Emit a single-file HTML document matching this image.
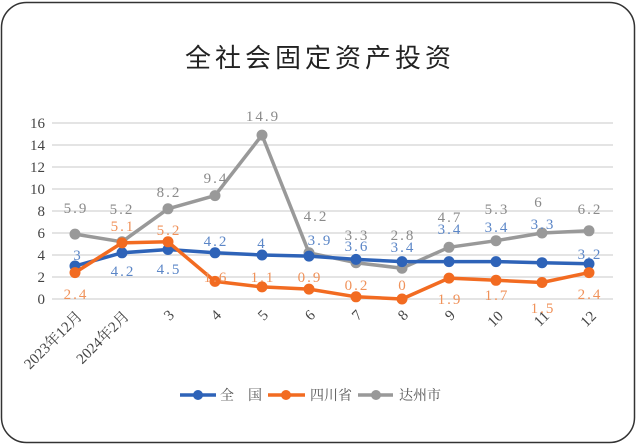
<!DOCTYPE html>
<html><head><meta charset="utf-8"><style>
html,body{margin:0;padding:0;background:#fff;}
svg{display:block;}
</style></head><body>
<svg width="640" height="447" xmlns="http://www.w3.org/2000/svg" font-family="'Liberation Serif','Noto Serif CJK SC',serif">
<rect x="1.5" y="2.5" width="633" height="440" rx="25" fill="#fff" stroke="#333" stroke-width="1.5"/>
<text x="320" y="67" text-anchor="middle" font-family="'Liberation Sans','Noto Sans CJK SC',sans-serif" font-size="26" letter-spacing="4" fill="#222">全社会固定资产投资</text>
<g stroke="#d4d4d4" stroke-width="1.2">
<line x1="52" x2="613" y1="123" y2="123"/><line x1="52" x2="613" y1="145" y2="145"/>
<line x1="52" x2="613" y1="167" y2="167"/><line x1="52" x2="613" y1="189" y2="189"/>
<line x1="52" x2="613" y1="211" y2="211"/><line x1="52" x2="613" y1="233" y2="233"/>
<line x1="52" x2="613" y1="255" y2="255"/><line x1="52" x2="613" y1="277" y2="277"/>
<line x1="52" x2="613" y1="299" y2="299"/>
</g>
<g font-size="15" fill="#444" text-anchor="end">
<text x="45" y="128">16</text><text x="45" y="150">14</text><text x="45" y="172">12</text>
<text x="45" y="194">10</text><text x="45" y="216">8</text><text x="45" y="238">6</text>
<text x="45" y="260">4</text><text x="45" y="282">2</text><text x="45" y="304">0</text>
</g>
<g font-size="15" fill="#444" text-anchor="end">
<text transform="translate(83,317) rotate(-45)">2023年12月</text>
<text transform="translate(130,317) rotate(-45)">2024年2月</text>
<text transform="translate(175,316) rotate(-45)">3</text>
<text transform="translate(222,316) rotate(-45)">4</text>
<text transform="translate(269,316) rotate(-45)">5</text>
<text transform="translate(316,316) rotate(-45)">6</text>
<text transform="translate(363,316) rotate(-45)">7</text>
<text transform="translate(409,316) rotate(-45)">8</text>
<text transform="translate(456,316) rotate(-45)">9</text>
<text transform="translate(504,317) rotate(-45)">10</text>
<text transform="translate(550,317) rotate(-45)">11</text>
<text transform="translate(597,317) rotate(-45)">12</text>
</g>
<!-- gray -->
<polyline fill="none" stroke="#999" stroke-width="3.5" stroke-linejoin="round" points="75,234.1 122,241.8 168,208.8 215,195.6 262,135.1 309,252.8 356,262.7 402,268.2 449,247.3 496,240.7 542,233 589,230.8"/>
<g fill="#999"><circle cx="75" cy="234.1" r="5.5"/><circle cx="122" cy="241.8" r="5.5"/><circle cx="168" cy="208.8" r="5.5"/><circle cx="215" cy="195.6" r="5.5"/><circle cx="262" cy="135.1" r="5.5"/><circle cx="309" cy="252.8" r="5.5"/><circle cx="356" cy="262.7" r="5.5"/><circle cx="402" cy="268.2" r="5.5"/><circle cx="449" cy="247.3" r="5.5"/><circle cx="496" cy="240.7" r="5.5"/><circle cx="542" cy="233" r="5.5"/><circle cx="589" cy="230.8" r="5.5"/></g>
<!-- blue -->
<polyline fill="none" stroke="#2e63b8" stroke-width="3.5" stroke-linejoin="round" points="75,266 122,252.8 168,249.5 215,252.8 262,255 309,256.1 356,259.4 402,261.6 449,261.6 496,261.6 542,262.7 589,263.8"/>
<g fill="#2e63b8"><circle cx="75" cy="266" r="5.5"/><circle cx="122" cy="252.8" r="5.5"/><circle cx="168" cy="249.5" r="5.5"/><circle cx="215" cy="252.8" r="5.5"/><circle cx="262" cy="255" r="5.5"/><circle cx="309" cy="256.1" r="5.5"/><circle cx="356" cy="259.4" r="5.5"/><circle cx="402" cy="261.6" r="5.5"/><circle cx="449" cy="261.6" r="5.5"/><circle cx="496" cy="261.6" r="5.5"/><circle cx="542" cy="262.7" r="5.5"/><circle cx="589" cy="263.8" r="5.5"/></g>
<!-- orange -->
<polyline fill="none" stroke="#f26b21" stroke-width="3.5" stroke-linejoin="round" points="75,272.6 122,242.9 168,241.8 215,281.4 262,286.9 309,289.1 356,296.8 402,299 449,278.1 496,280.3 542,282.5 589,272.6"/>
<g fill="#f26b21"><circle cx="75" cy="272.6" r="5.5"/><circle cx="122" cy="242.9" r="5.5"/><circle cx="168" cy="241.8" r="5.5"/><circle cx="215" cy="281.4" r="5.5"/><circle cx="262" cy="286.9" r="5.5"/><circle cx="309" cy="289.1" r="5.5"/><circle cx="356" cy="296.8" r="5.5"/><circle cx="402" cy="299" r="5.5"/><circle cx="449" cy="278.1" r="5.5"/><circle cx="496" cy="280.3" r="5.5"/><circle cx="542" cy="282.5" r="5.5"/><circle cx="589" cy="272.6" r="5.5"/></g>
<g font-size="15" text-anchor="middle" letter-spacing="2" fill="#8a8a8a">
<text x="76" y="213">5.9</text><text x="122" y="214">5.2</text><text x="169" y="197">8.2</text><text x="216" y="183">9.4</text><text x="263" y="121">14.9</text><text x="316" y="221">4.2</text><text x="357" y="240">3.3</text><text x="403" y="240">2.8</text><text x="450" y="222">4.7</text><text x="497" y="214">5.3</text><text x="539" y="207">6</text><text x="590" y="214">6.2</text>
</g>
<g font-size="15" text-anchor="middle" letter-spacing="2" fill="#5b86c7">
<text x="78" y="260">3</text><text x="123" y="276">4.2</text><text x="169" y="274">4.5</text><text x="216" y="246">4.2</text><text x="262" y="248">4</text><text x="320" y="245">3.9</text><text x="357" y="251">3.6</text><text x="403" y="252">3.4</text><text x="450" y="234">3.4</text><text x="497" y="232">3.4</text><text x="543" y="229">3.3</text><text x="590" y="259">3.2</text>
</g>
<g font-size="15" text-anchor="middle" letter-spacing="2" fill="#f0925a">
<text x="76" y="299">2.4</text><text x="123" y="231">5.1</text><text x="169" y="235">5.2</text><text x="216" y="282">1.6</text><text x="263" y="282">1.1</text><text x="310" y="282">0.9</text><text x="357" y="290">0.2</text><text x="403" y="290">0</text><text x="450" y="304">1.9</text><text x="497" y="300">1.7</text><text x="543" y="313">1.5</text><text x="590" y="299">2.4</text>
</g>
<g font-size="14" fill="#555">
<line x1="180" x2="216" y1="395" y2="395" stroke="#2e63b8" stroke-width="3.5"/><circle cx="198" cy="395" r="5" fill="#2e63b8"/>
<text x="220" y="400">全　国</text>
<line x1="268" x2="305" y1="395" y2="395" stroke="#f26b21" stroke-width="3.5"/><circle cx="286" cy="395" r="5" fill="#f26b21"/>
<text x="310" y="400">四川省</text>
<line x1="358" x2="393" y1="395" y2="395" stroke="#999" stroke-width="3.5"/><circle cx="376" cy="395" r="5" fill="#999"/>
<text x="399" y="400">达州市</text>
</g>
</svg>
</body></html>
